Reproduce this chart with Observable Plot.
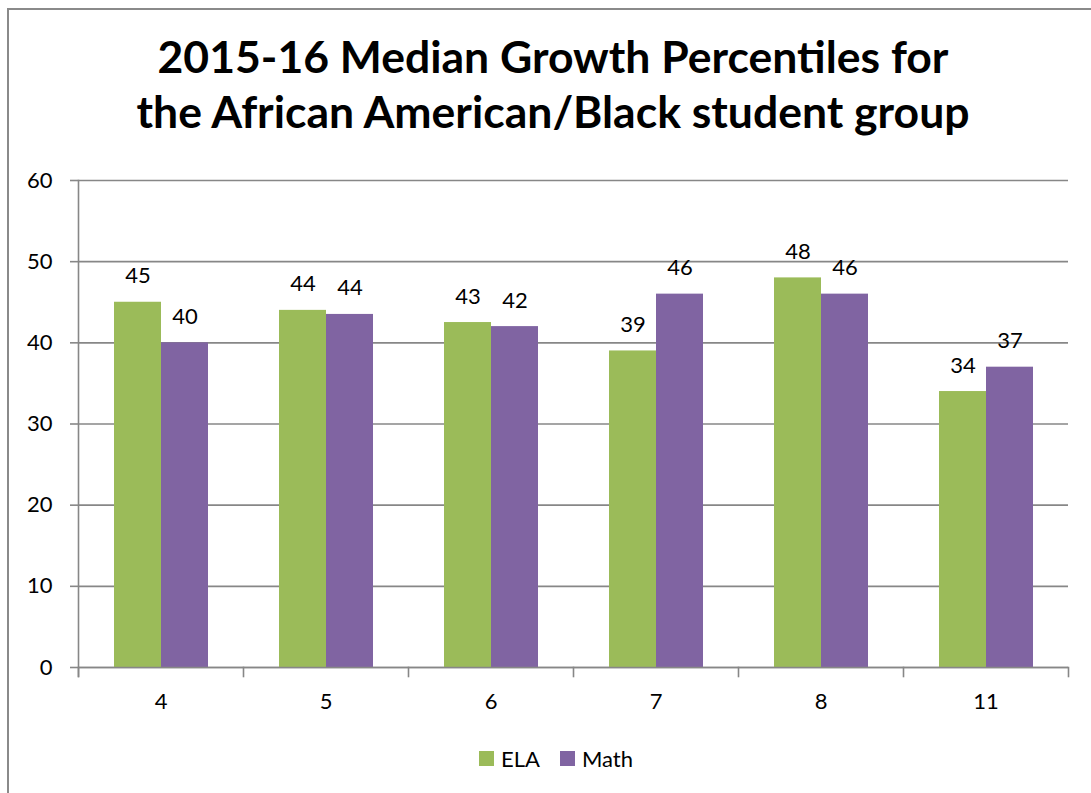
<!DOCTYPE html>
<html>
<head>
<meta charset="utf-8">
<script src="https://cdn.jsdelivr.net/npm/d3@7"></script>
<script src="https://cdn.jsdelivr.net/npm/@observablehq/plot@0.6"></script>
<style>
  html, body { margin: 0; padding: 0; background: #fff; }
  #wrap { position: relative; width: 1091px; height: 793px; overflow: hidden; font-family: Lato, "Open Sans", sans-serif; color: #000; }
  #border { position: absolute; left: 7px; top: 8px; width: 2000px; height: 2000px; border-left: 2px solid #8a8a8a; border-top: 2px solid #8a8a8a; }
  #title { position: absolute; left: 0; width: 1106px; top: 28px; text-align: center; font-weight: bold; font-size: 44.5px; line-height: 55px; }
  #chart { position: absolute; left: 0; top: 0; }
  #legend { position: absolute; top: 745px; left: 479px; display: flex; align-items: center; font-size: 22px; }
  .sw { display: inline-block; width: 15px; height: 15px; margin-right: 7px; }
  .item { display: flex; align-items: center; margin-right: 20px; }
</style>
</head>
<body>
<div id="wrap">
  <div id="border"></div>
  <div id="chart"></div>
  <div id="title"></div>
  <div id="legend"></div>
</div>
<script>
const titleLines = ["2015-16 Median Growth Percentiles for", "the African American/Black student group"];
const grades = ["4", "5", "6", "7", "8", "11"];
const series = ["ELA", "Math"];
const ela = [45, 44, 42.5, 39, 48, 34];
const math = [40, 43.5, 42, 46, 46, 37];
const yTicks = [0, 10, 20, 30, 40, 50, 60];
const colors = ["#9BBB59", "#8064A2"];

const data = [];
grades.forEach((g, i) => {
  data.push({grade: g, subject: series[0], value: ela[i]});
  data.push({grade: g, subject: series[1], value: math[i]});
});

const W = 1091, H = 720, mT = 180, mB = 53, mL = 77, mR = 22;
const plotH = H - mT - mB;
const gray = "#878787";
const fs = 22;

const chart = Plot.plot({
  width: W, height: H,
  marginTop: mT, marginBottom: mB, marginLeft: mL, marginRight: mR,
  style: {fontFamily: "Lato, 'Open Sans', sans-serif", fontSize: fs + "px", color: "#000", background: "transparent"},
  fx: {domain: grades, padding: 0, label: null},
  x: {domain: series, paddingInner: 0, paddingOuter: 0.755, axis: null},
  y: {domain: [0, 60], label: null},
  color: {domain: series, range: colors},
  marks: [
    Plot.gridY(yTicks, {stroke: gray, strokeOpacity: 1, strokeWidth: 1.6}),
    Plot.barY(data, {fx: "grade", x: "subject", y: "value", fill: "subject"}),
    Plot.text(data, {fx: "grade", x: "subject", y: "value", text: d => String(Math.round(d.value)), dy: -26, fontSize: fs, fill: "#000"}),
    Plot.axisY(yTicks, {tickSize: 8, tickPadding: 18, stroke: gray, strokeWidth: 1.6, fontSize: fs, label: null, tickFormat: d => String(d)}),
    Plot.axisFx({anchor: "bottom", tickSize: 0, tickPadding: 26, fontSize: fs, label: null}),
    Plot.frame({anchor: "left", facetAnchor: "left", insetBottom: -9, stroke: gray, strokeWidth: 1.6}),
    Plot.frame({anchor: "left", insetTop: plotH, insetBottom: -9, stroke: gray, strokeWidth: 1.6}),
    Plot.frame({anchor: "right", facetAnchor: "right", insetTop: plotH, insetBottom: -9, stroke: gray, strokeWidth: 1.6}),
    Plot.ruleY([0], {stroke: gray, strokeWidth: 1.6})
  ]
});
document.getElementById("chart").appendChild(chart);

const t = document.getElementById("title");
titleLines.forEach(l => { const d = document.createElement("div"); d.textContent = l; t.appendChild(d); });

const lg = document.getElementById("legend");
series.forEach((s, i) => {
  const it = document.createElement("span");
  it.className = "item";
  const sw = document.createElement("span");
  sw.className = "sw";
  sw.style.background = colors[i];
  it.appendChild(sw);
  it.appendChild(document.createTextNode(s));
  lg.appendChild(it);
});
</script>
</body>
</html>
